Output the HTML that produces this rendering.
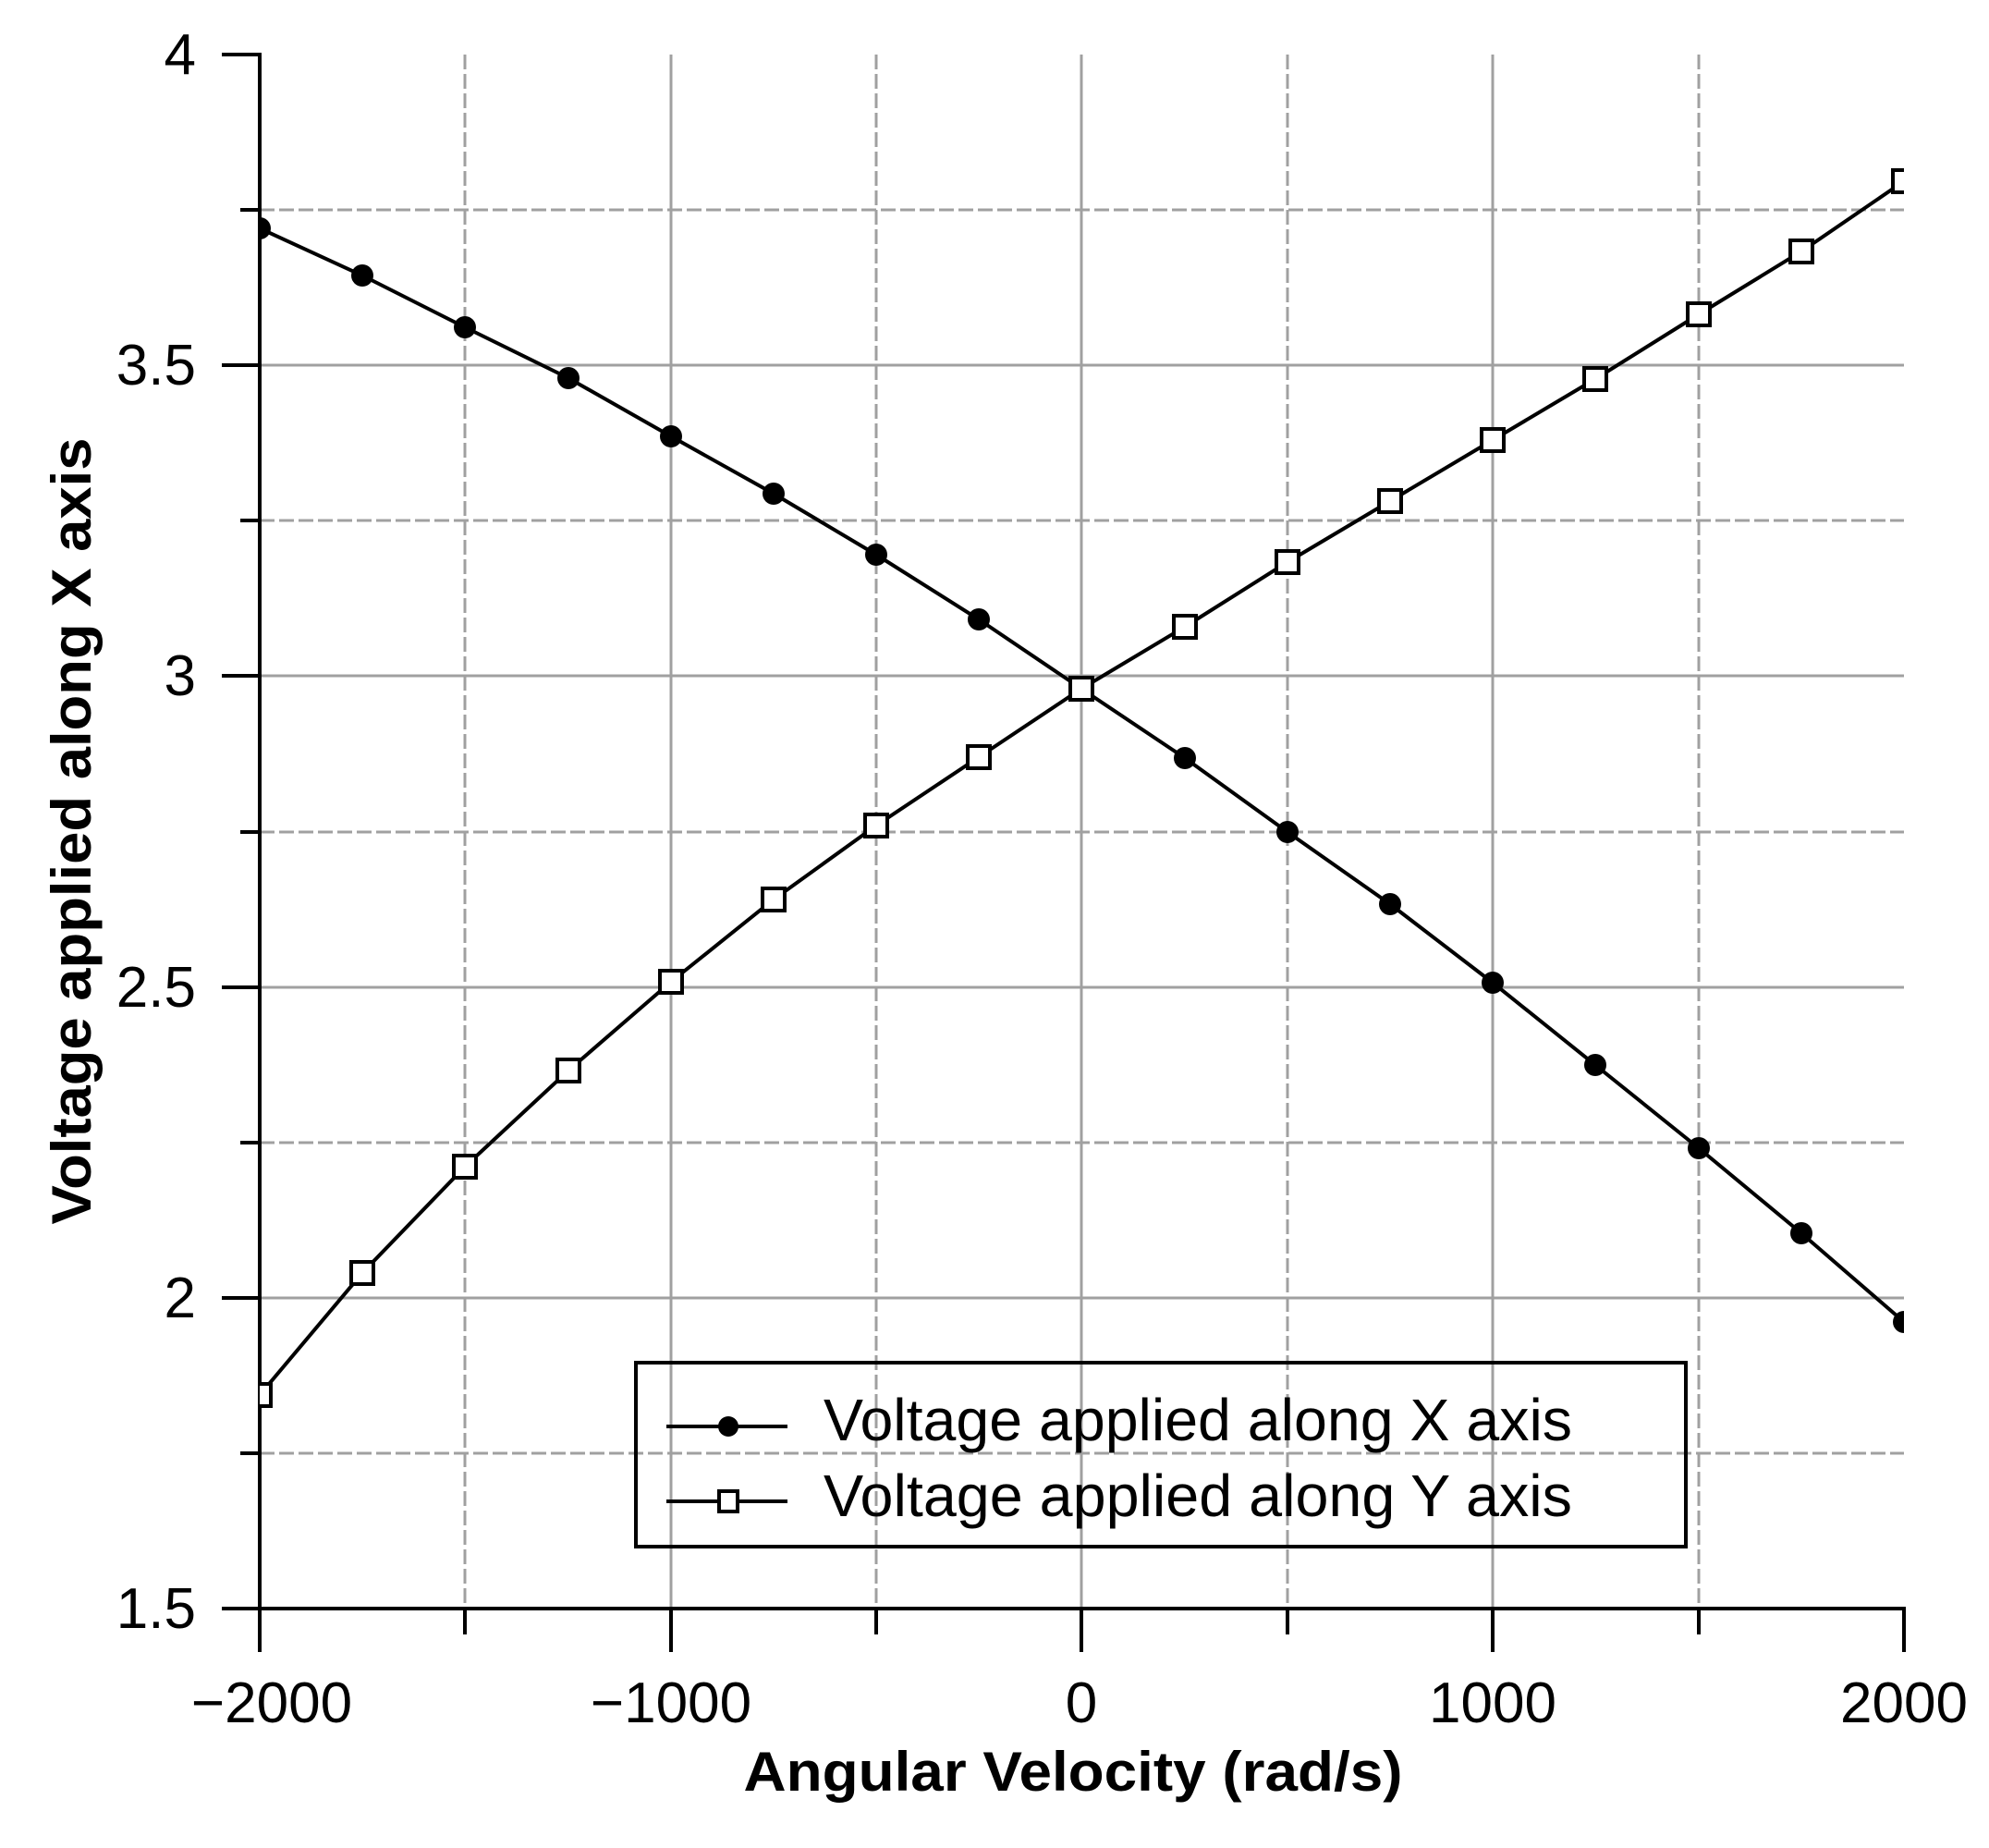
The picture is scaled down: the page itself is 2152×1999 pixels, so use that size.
<!DOCTYPE html>
<html><head><meta charset="utf-8"><style>html,body{margin:0;padding:0;background:#fff}svg{display:block}</style></head>
<body>
<svg width="2152" height="1999" viewBox="0 0 2152 1999" xmlns="http://www.w3.org/2000/svg" font-family="Liberation Sans, Arial, sans-serif">
<defs><clipPath id="c"><rect x="281" y="59" width="1779" height="1681"/></clipPath></defs>
<g stroke="#a0a0a0" stroke-width="3">
<line x1="726" y1="59" x2="726" y2="1740"/><line x1="1170" y1="59" x2="1170" y2="1740"/><line x1="1615" y1="59" x2="1615" y2="1740"/>
<line x1="281" y1="395" x2="2060" y2="395"/><line x1="281" y1="731" x2="2060" y2="731"/><line x1="281" y1="1068" x2="2060" y2="1068"/><line x1="281" y1="1404" x2="2060" y2="1404"/>
<g stroke-dasharray="16,5">
<line x1="503" y1="59" x2="503" y2="1740"/><line x1="948" y1="59" x2="948" y2="1740"/><line x1="1393" y1="59" x2="1393" y2="1740"/><line x1="1838" y1="59" x2="1838" y2="1740"/>
<line x1="281" y1="227" x2="2060" y2="227"/><line x1="281" y1="563" x2="2060" y2="563"/><line x1="281" y1="900" x2="2060" y2="900"/><line x1="281" y1="1236" x2="2060" y2="1236"/><line x1="281" y1="1572" x2="2060" y2="1572"/>
</g></g>
<g stroke="#000" stroke-width="4" fill="none">
<line x1="281" y1="57" x2="281" y2="1787"/>
<line x1="240" y1="1740" x2="2062" y2="1740"/>
<line x1="240" y1="59" x2="281" y2="59"/><line x1="240" y1="395" x2="281" y2="395"/><line x1="240" y1="731" x2="281" y2="731"/><line x1="240" y1="1068" x2="281" y2="1068"/><line x1="240" y1="1404" x2="281" y2="1404"/>
<line x1="260" y1="227" x2="281" y2="227"/><line x1="260" y1="563" x2="281" y2="563"/><line x1="260" y1="900" x2="281" y2="900"/><line x1="260" y1="1236" x2="281" y2="1236"/><line x1="260" y1="1572" x2="281" y2="1572"/>
<line x1="726" y1="1740" x2="726" y2="1787"/><line x1="1170" y1="1740" x2="1170" y2="1787"/><line x1="1615" y1="1740" x2="1615" y2="1787"/><line x1="2060" y1="1740" x2="2060" y2="1787"/>
<line x1="503" y1="1740" x2="503" y2="1768"/><line x1="948" y1="1740" x2="948" y2="1768"/><line x1="1393" y1="1740" x2="1393" y2="1768"/><line x1="1838" y1="1740" x2="1838" y2="1768"/>
</g>
<g font-size="62" fill="#000" text-anchor="end">
<text x="212" y="80">4</text><text x="212" y="416">3.5</text><text x="212" y="752">3</text><text x="212" y="1089">2.5</text><text x="212" y="1425">2</text><text x="212" y="1761">1.5</text>
</g>
<g font-size="62" fill="#000" text-anchor="middle">
<text x="294" y="1863">−2000</text><text x="726" y="1863">−1000</text><text x="1170" y="1863">0</text><text x="1615" y="1863">1000</text><text x="2060" y="1863">2000</text>
</g>
<text x="1161" y="1937" font-size="60" font-weight="bold" text-anchor="middle" textLength="713" lengthAdjust="spacingAndGlyphs">Angular Velocity (rad/s)</text>
<text transform="translate(98,899) rotate(-90)" font-size="60" font-weight="bold" text-anchor="middle" textLength="851" lengthAdjust="spacingAndGlyphs">Voltage applied along X axis</text>
<g clip-path="url(#c)">
<polyline fill="none" stroke="#000" stroke-width="4" points="281,247 392,298 503,354 615,409 726,472 837,534 948,600 1059,670 1170,745 1282,820 1393,900 1504,978 1615,1063 1726,1152 1838,1242 1949,1334 2060,1430"/>
<g fill="#000">
<circle cx="281" cy="247" r="12"/><circle cx="392" cy="298" r="12"/><circle cx="503" cy="354" r="12"/><circle cx="615" cy="409" r="12"/><circle cx="726" cy="472" r="12"/><circle cx="837" cy="534" r="12"/><circle cx="948" cy="600" r="12"/><circle cx="1059" cy="670" r="12"/><circle cx="1170" cy="745" r="12"/><circle cx="1282" cy="820" r="12"/><circle cx="1393" cy="900" r="12"/><circle cx="1504" cy="978" r="12"/><circle cx="1615" cy="1063" r="12"/><circle cx="1726" cy="1152" r="12"/><circle cx="1838" cy="1242" r="12"/><circle cx="1949" cy="1334" r="12"/><circle cx="2060" cy="1430" r="12"/>
</g>
<polyline fill="none" stroke="#000" stroke-width="4" points="281,1509 392,1377 503,1262 615,1158 726,1062 837,973 948,893 1059,819 1170,745 1282,678 1393,608 1504,542 1615,476 1726,410 1838,340 1949,272 2060,196"/>
<g fill="#fff" stroke="#000" stroke-width="4">
<rect x="269" y="1497" width="24" height="24"/><rect x="380" y="1365" width="24" height="24"/><rect x="491" y="1250" width="24" height="24"/><rect x="603" y="1146" width="24" height="24"/><rect x="714" y="1050" width="24" height="24"/><rect x="825" y="961" width="24" height="24"/><rect x="936" y="881" width="24" height="24"/><rect x="1047" y="807" width="24" height="24"/><rect x="1158" y="733" width="24" height="24"/><rect x="1270" y="666" width="24" height="24"/><rect x="1381" y="596" width="24" height="24"/><rect x="1492" y="530" width="24" height="24"/><rect x="1603" y="464" width="24" height="24"/><rect x="1714" y="398" width="24" height="24"/><rect x="1826" y="328" width="24" height="24"/><rect x="1937" y="260" width="24" height="24"/><rect x="2048" y="184" width="24" height="24"/>
</g>
</g>
<rect x="688" y="1474" width="1136" height="199" fill="none" stroke="#000" stroke-width="4"/>
<line x1="721" y1="1543" x2="852" y2="1543" stroke="#000" stroke-width="4"/>
<circle cx="788" cy="1543" r="11" fill="#000"/>
<line x1="721" y1="1624" x2="852" y2="1624" stroke="#000" stroke-width="4"/>
<rect x="778" y="1613" width="20" height="22" fill="#fff" stroke="#000" stroke-width="4"/>
<text x="891" y="1558" font-size="64" textLength="810" lengthAdjust="spacingAndGlyphs">Voltage applied along X axis</text>
<text x="891" y="1640" font-size="64" textLength="810" lengthAdjust="spacingAndGlyphs">Voltage applied along Y axis</text>
</svg>
</body></html>
